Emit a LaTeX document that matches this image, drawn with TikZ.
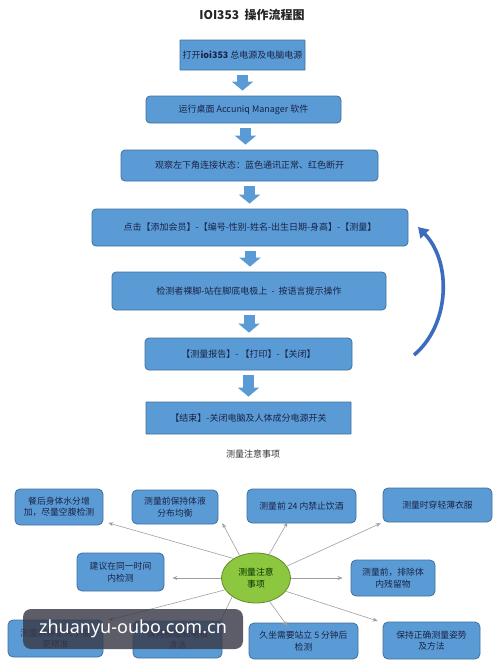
\documentclass[tikz,border=0pt]{standalone}
\usepackage{fontspec}
\setmainfont{Noto Sans CJK SC}
\newfontfamily\wmfont{Noto Sans}
\usetikzlibrary{arrows.meta,shapes.geometric,calc}
\definecolor{boxfill}{RGB}{91,155,213}
\definecolor{boxline}{RGB}{65,113,156}
\definecolor{txt}{RGB}{25,35,70}
\definecolor{curvecol}{RGB}{60,108,190}
\definecolor{egreen}{RGB}{141,198,63}
\definecolor{egline}{RGB}{96,140,40}
\definecolor{wmgray}{RGB}{58,58,72}
\begin{document}
\begin{tikzpicture}[x=1pt,y=-1pt,
  flowbox/.style={draw=boxline, fill=boxfill, line width=0.8pt, rounded corners=4pt,
    text=txt, font=\fontsize{9}{11}\selectfont, inner sep=0pt, anchor=center},
  sharpbox/.style={flowbox, rounded corners=0.5pt},
  blockarrow/.style={line width=11pt, draw=boxfill,
    -{Triangle[length=9pt,width=21pt]}, shorten <=5pt, shorten >=5pt},
  mmbox/.style={draw=boxline, fill=boxfill, rounded corners=5pt, line width=0.8pt,
    text=txt, font=\fontsize{8.8}{11.5}\selectfont, align=center, inner sep=0pt},
  conn/.style={draw=gray!75, line width=0.6pt, -{Stealth[length=5pt,width=4pt]}, shorten >=2pt},
  wm/.style={fill=wmgray, fill opacity=0.82, text opacity=1, text=white, rounded corners=8pt,
    font=\wmfont\fontsize{18}{20}\selectfont, inner sep=0pt}
]
\useasboundingbox[fill=white] (0,0) rectangle (500,672);

\node[font=\fontsize{12}{14}\selectfont\bfseries, text=black!85] (title) at (252,15) {IOI353\ \ 操作流程图};

\node[sharpbox, minimum width=125, minimum height=30] (b1) at (242.5,55) {打开\textbf{ioi353} 总电源及电脑电源};
\node[flowbox, minimum width=195, minimum height=27] (b2) at (243.5,109.5) {运行桌面 Accuniq Manager 软件};
\node[flowbox, minimum width=257, minimum height=31] (b3) at (249.5,165.5) {观察左下角连接状态：蓝色通讯正常、红色断开};
\node[flowbox, minimum width=316, minimum height=37] (b4) at (250,227.5) {点击【添加会员】-【编号-性别-姓名-出生日期-身高】-【测量】};
\node[flowbox, minimum width=274, minimum height=38] (b5) at (249,291) {检测者裸脚-站在脚底电极上 \ - \ 按语言提示操作};
\node[flowbox, minimum width=207, minimum height=32] (b6) at (248.5,354) {【测量报告】- 【打印】-【关闭】};
\node[sharpbox, minimum width=205, minimum height=32] (b7) at (248.5,418) {【结束】-关闭电脑及人体成分电源开关};

\draw[blockarrow] (b1.south) -- (b1.south |- b2.north);
\draw[blockarrow] ([xshift=2pt]b2.south) -- ([xshift=2pt]b2.south |- b3.north);
\draw[blockarrow] (b3.south) -- (b3.south |- b4.north);
\draw[blockarrow] (b4.south) -- (b4.south |- b5.north);
\draw[blockarrow] (b5.south) -- (b5.south |- b6.north);
\draw[blockarrow] (b6.south) -- (b6.south |- b7.north);

\coordinate (cfrom) at (414,355);
\coordinate (cto) at (418,227);
\draw[draw=curvecol, line width=3.6pt, -{Triangle[length=10pt,width=12pt]}]
  (cfrom) .. controls (450,325) and (452,262) .. (cto);

\node[font=\fontsize{9}{11}\selectfont, text=black!80] (notes) at (253,454) {测量注意事项};

% mind map
\node[ellipse, draw=egline, fill=egreen, line width=0.8pt, minimum width=69, minimum height=50,
  inner sep=0pt, align=center, text=black!80!green, font=\fontsize{8.8}{12}\selectfont] (e) at (256,578) {测量注意\\事项};

\node[mmbox, minimum width=88, minimum height=36] (A) at (59,507) {餐后身体水分增\\加，尽量空腹检测};
\node[mmbox, minimum width=86, minimum height=34] (B) at (175,507) {测量前保持体液\\分布均衡};
\node[mmbox, minimum width=109, minimum height=34] (C) at (301.5,506) {测量前 24 内禁止饮酒};
\node[mmbox, minimum width=109, minimum height=34] (D) at (437.5,505) {测量时穿轻薄衣服};
\node[mmbox, minimum width=87, minimum height=38] (E) at (120.5,572) {建议在同一时间\\内检测};
\node[mmbox, minimum width=84, minimum height=36] (F) at (393,578) {测量前，排除体\\内残留物};
\node[mmbox, minimum width=95, minimum height=37] (G) at (55.5,638.5) {测量前排空大小便\\更精准};
\node[mmbox, minimum width=89, minimum height=37] (H) at (177.5,639.5) {保持脚底和电极\\清洁};
\node[mmbox, minimum width=109, minimum height=36] (I) at (303.5,641) {久坐需要站立 5 分钟后\\检测};
\node[mmbox, minimum width=97, minimum height=37] (J) at (431.5,640.5) {保持正确测量姿势\\及方法};

\draw[conn] (e.139) -- ([shift={(3pt,3pt)}]A.south east);
\draw[conn] (e.126) -- ([shift={(3pt,3pt)}]B.south east);
\draw[conn] (e.61) -- ([xshift=-13pt,yshift=3pt]C.south);
\draw[conn] (e.21) -- (D.south west);
\draw[conn] (e.west) -- ([xshift=6pt]e.west -| E.east);
\draw[conn] (e.east) -- ([xshift=-6pt]e.east -| F.west);
\draw[conn] (e.201) -- ([shift={(3pt,-1pt)}]G.north east);
\draw[conn] (e.218) -- ([shift={(-4pt,-5pt)}]H.north east);
\draw[conn] (e.300) -- ([xshift=-15pt,yshift=-5pt]I.north);
\draw[conn] (e.336) -- ([shift={(-3pt,0pt)}]J.north west);

\node[wm, minimum width=220, minimum height=40] (wmark) at (133,629) {zhuanyu-oubo.com.cn};
\end{tikzpicture}
\end{document}
